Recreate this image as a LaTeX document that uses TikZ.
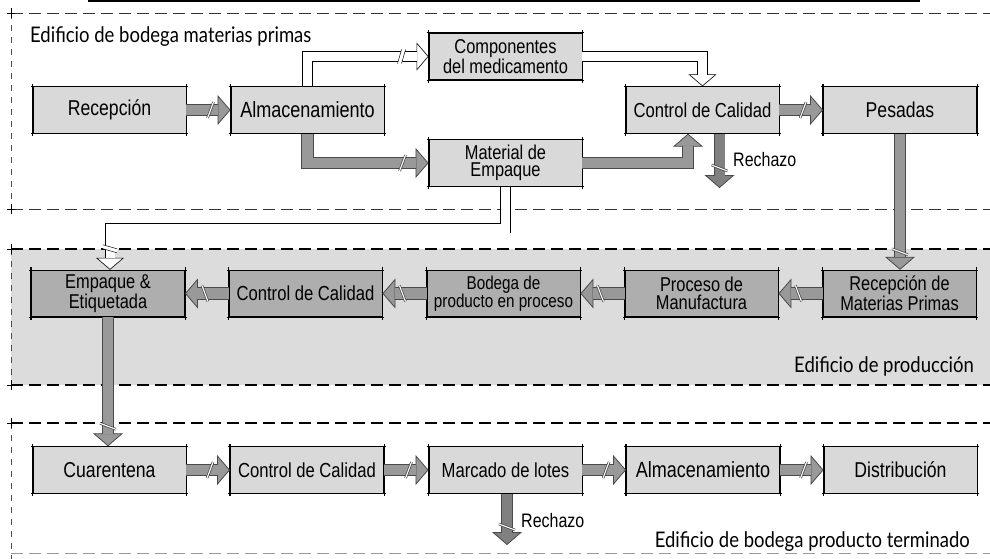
\documentclass[tikz,border=0pt]{standalone}
\usepackage{fontspec}
\setmainfont{Liberation Sans}
\newfontfamily\boxfont[FakeStretch=0.82]{Liberation Sans}
\newfontfamily\zonefont[FakeStretch=0.86]{Lato}
\usetikzlibrary{arrows.meta,calc,decorations.markings}

\definecolor{boxlight}{HTML}{D9D9D9}
\definecolor{boxdark}{HTML}{AEAEAE}
\definecolor{bandgray}{HTML}{DCDCDC}
\definecolor{arrowfill}{HTML}{999999}
\definecolor{arrowedge}{HTML}{4A4A4A}
\definecolor{rejectfill}{HTML}{808080}

% cut marks drawn across the arrow shafts
\newcommand\filledslash{%
  \draw[arrowedge, line width=2.6pt] (-3pt,-8pt) -- (3pt,8pt);
  \draw[white, line width=1.1pt] (-3pt,-8pt) -- (3pt,8pt);}
\newcommand\filledLslash{%
  \draw[arrowedge, line width=2.6pt] (-3pt,8pt) -- (3pt,-8pt);
  \draw[white, line width=1.1pt] (-3pt,8pt) -- (3pt,-8pt);}
\newcommand\rejectslash{\filledslash}
\newcommand\hollowslash{%
  \fill[white] (-5pt,-7pt) -- (-1pt,7pt) -- (3pt,7pt) -- (-1pt,-7pt) -- cycle;
  \draw[black, line width=0.5pt] (-5pt,-7pt) -- (-1pt,7pt) (-1pt,-7pt) -- (3pt,7pt);}

% a flow connector: tip layer, shaft layer, optional cut mark
\newcommand\flowconn[3]{%
  \draw[#1 tip] #2;
  \draw[#1 shaft] #2;
  \ifx\relax#3\relax\else
    \path[decorate, decoration={markings,
      mark=at position #3 with {\csname #1slash\endcsname}}] #2;
  \fi}

\tikzset{
  box/.style={draw=black, line width=0.9pt, fill=boxlight,
    minimum width=153pt, minimum height=46.5pt, inner sep=0pt, align=center,
    font=\boxfont\fontsize{21.5}{21.5}\selectfont},
  prodbox/.style={box, fill=boxdark},
  twoline/.style={font=\boxfont\fontsize{20}{17.5}\selectfont},
  spaced/.style={font=\boxfont\fontsize{20.3}{20.3}\selectfont},
  zonelabel/.style={inner sep=0pt, font=\zonefont\fontsize{21.5}{21.5}\selectfont},
  rejlabel/.style={inner sep=0pt, font=\boxfont\fontsize{19.5}{19.5}\selectfont},
  filled tip/.style={line width=0.8pt, draw=arrowedge,
    -{Triangle[length=13pt,width=30pt,fill=arrowfill]}},
  filled shaft/.style={line width=0.8pt, draw=arrowedge, double=arrowfill,
    double distance=10.5pt, shorten >=12.5pt, line join=miter},
  filledL tip/.style={filled tip},
  filledL shaft/.style={filled shaft},
  reject tip/.style={line width=0.8pt, draw=arrowedge,
    -{Triangle[length=13pt,width=30pt,fill=rejectfill]}},
  reject shaft/.style={line width=0.8pt, draw=arrowedge, double=rejectfill,
    double distance=10pt, shorten >=12.5pt, line join=miter},
  hollow tip/.style={line width=0.6pt, draw=black,
    -{Triangle[length=12pt,width=28pt,fill=white]}},
  hollow shaft/.style={line width=0.6pt, draw=black, double=white,
    double distance=9pt, shorten >=11.5pt, line join=miter},
  zonethin/.style={draw=black!80, line width=0.9pt, dash pattern=on 12pt off 6pt},
  zonebold/.style={draw=black, line width=1.5pt, dash pattern=on 12pt off 6pt},
  zonefaint/.style={draw=black!40, line width=1pt, dash pattern=on 12pt off 6pt},
  zoneside/.style={draw=black!70, line width=0.6pt, dash pattern=on 6pt off 6pt},
}

\begin{document}
\begin{tikzpicture}[x=1pt,y=-1pt]
\useasboundingbox (0,0) rectangle (990,559);

% production building band
\fill[bandgray] (11,249) rectangle (990,385);

% frame line along the upper edge
\draw[line width=1.6pt] (88,0.8) -- (920,0.8);

% building boundaries
\draw[zonethin] (11,13) -- (990,13);
\draw[zonethin] (11,209) -- (990,209);
\draw[zonebold] (11,249) -- (990,249);
\draw[zonebold] (11,385) -- (990,385);
\draw[zonebold, line width=1.3pt] (11,423) -- (990,423);
\draw[zonefaint] (11,553) -- (990,553);
\draw[zoneside] (11,13) -- (11,209);
\draw[zoneside] (11,249) -- (11,385);
\draw[zoneside] (11,423) -- (11,559);
\foreach \yy in {13,209,249,385,423}
  \draw[line width=0.6pt] (11,\yy-5) -- (11,\yy+5) (7,\yy) -- (15,\yy);

% building names
\node[zonelabel, anchor=base west] (zoneA) at (30,43) {Edificio de bodega materias primas};
\node[zonelabel, anchor=base east] (zoneB) at (974,372) {Edificio de producción};
\node[zonelabel, anchor=base east] (zoneC) at (970,547) {Edificio de bodega producto terminado};

% raw material warehouse
\node[box] (rec) at (109.5,110) {Recepción};
\node[box, font=\boxfont\fontsize{22}{22}\selectfont] (alm) at (307.5,110) {Almacenamiento};
\node[box, twoline] (comp) at (505.5,56.5) {Componentes\\del medicamento};
\node[box, twoline] (mat) at (505.5,163) {Material de\\Empaque};
\node[box, spaced] (ccA) at (702.5,110) {Control de Calidad};
\node[box] (pes) at (900,110) {Pesadas};

% production
\node[prodbox, twoline] (emp) at (108,293.5) {Empaque \&\\Etiquetada};
\node[prodbox, spaced] (ccB) at (305.5,293.5) {Control de Calidad};
\node[prodbox, twoline, font=\boxfont\fontsize{18.6}{17.5}\selectfont] (bod) at (503.5,293.5) {Bodega de\\producto en proceso};
\node[prodbox, twoline] (pm) at (701.5,293.5) {Proceso de\\Manufactura};
\node[prodbox, twoline] (rmp) at (899.5,293.5) {Recepción de\\Materias Primas};

% finished goods warehouse
\node[box] (cua) at (109.5,470) {Cuarentena};
\node[box, spaced] (ccC) at (307,470) {Control de Calidad};
\node[box, spaced] (mar) at (505.5,470) {Marcado de lotes};
\node[box, font=\boxfont\fontsize{22}{22}\selectfont] (almB) at (703,470) {Almacenamiento};
\node[box] (dis) at (900.5,470) {Distribución};

% drafting overshoots at the box corners
\foreach \b in {rec,alm,comp,mat,ccA,pes,emp,ccB,bod,pm,rmp,cua,ccC,mar,almB,dis}{
  \draw[line width=0.6pt] ([xshift=-2pt]\b.north west) -- ([xshift=2pt]\b.north east)
    ([xshift=-2pt]\b.south west) -- ([xshift=2pt]\b.south east)
    ([yshift=2.5pt]\b.north east) -- ([yshift=-2.5pt]\b.south east);
  \draw[line width=1.8pt] ([yshift=2.5pt]\b.north west) -- ([yshift=-2.5pt]\b.south west);
}

% reject outlets and routing points
\coordinate (rejA) at (719.5,188);
\coordinate (rejB) at (507,545);
\coordinate (bendH) at (0,228);

\node[rejlabel, anchor=base west] (rejtxtA) at (733,166) {Rechazo};
\node[rejlabel, anchor=base west] (rejtxtB) at (521,527) {Rechazo};

% flows in the raw material warehouse
\flowconn{filled}{(rec.east) -- (alm.west)}{-20pt}
\flowconn{hollow}{(alm.north) |- (comp.west)}{-26pt}
\flowconn{filled}{(alm.south) |- (mat.west)}{-26pt}
\flowconn{hollow}{(comp.east) -| (ccA.north)}{}
\flowconn{filled}{(mat.east) -| ([xshift=-14.5pt]ccA.south)}{}
\flowconn{reject}{(ccA.south -| rejA) -- (rejA)}{-20pt}
\flowconn{filled}{(ccA.east) -- (pes.west)}{-20pt}

% towards production
\flowconn{filled}{(pes.south) -- (pes.south |- rmp.north)}{-18pt}
\flowconn{hollow}{(mat.south) -- (mat.south |- bendH) -| ([xshift=2pt]emp.north)}{-20pt}

% production line
\flowconn{filledL}{(rmp.west) -- (pm.east)}{-20pt}
\flowconn{filledL}{(pm.west) -- (bod.east)}{-20pt}
\flowconn{filledL}{(bod.west) -- (ccB.east)}{-20pt}
\flowconn{filledL}{(ccB.west) -- (emp.east)}{-20pt}

% to the finished goods warehouse
\flowconn{filled}{(emp.south) -- (emp.south |- cua.north)}{-20pt}

% finished goods line
\flowconn{filled}{(cua.east) -- (ccC.west)}{-20pt}
\flowconn{filled}{(ccC.east) -- (mar.west)}{-20pt}
\flowconn{filled}{(mar.east) -- (almB.west)}{-20pt}
\flowconn{filled}{(almB.east) -- (dis.west)}{-20pt}
\flowconn{reject}{(mar.south -| rejB) -- (rejB)}{-18pt}

\end{tikzpicture}
\end{document}
